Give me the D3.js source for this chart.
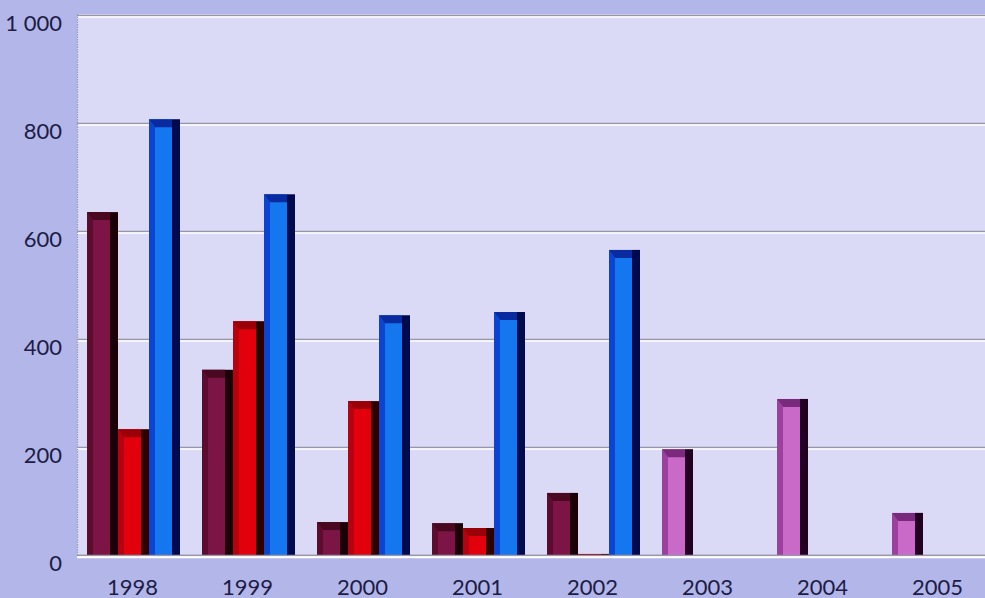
<!DOCTYPE html>
<html>
<head>
<meta charset="utf-8">
<script src="https://cdn.jsdelivr.net/npm/d3@7"></script>
<style>
  html, body { margin: 0; padding: 0; background: #b3b6e8; }
  svg { display: block; }
  text { font-family: Lato, "Open Sans", sans-serif; }
</style>
</head>
<body>
<svg id="chart" width="985" height="598"></svg>
<script>
// ---- data ----
const years = ["1998", "1999", "2000", "2001", "2002", "2003", "2004", "2005"];
const seriesMaroon = [635, 343, 61, 59, 115, null, null, null];
const seriesRed    = [233, 433, 285, 50, 2, null, null, null];
const seriesBlue   = [807, 668, 444, 450, 565, null, null, null];
const seriesPink   = [null, null, null, null, null, 196, 289, 78];
const yTicks = [0, 200, 400, 600, 800, 1000];
const yTickLabels = ["0", "200", "400", "600", "800", "1 000"];

// ---- styling per series ----
const styles = [
  { values: seriesMaroon, slot: 0, face: "#7c1446", left: "#5e0c2e", top: "#4a0820", side: "#1c0008" },
  { values: seriesRed,    slot: 1, face: "#e2000c", left: "#b8000e", top: "#9a0008", side: "#2e0000" },
  { values: seriesBlue,   slot: 2, face: "#1577ef", left: "#0a44d2", top: "#0a2aa0", side: "#000a4c" },
  { values: seriesPink,   slot: 0, face: "#c96ac9", left: "#9c3f9e", top: "#7a2a7c", side: "#220022" }
];

const W = 985, H = 598;
const plot = { left: 77, top: 14, right: 985, bottom: 556 };

const svg = d3.select("#chart");

// background
svg.append("rect").attr("x", 0).attr("y", 0).attr("width", W).attr("height", H).attr("fill", "#b3b6e8");
svg.append("rect").attr("x", plot.left).attr("y", plot.top)
  .attr("width", plot.right - plot.left).attr("height", plot.bottom - plot.top)
  .attr("fill", "#dad9f6");

// scales
const y = d3.scaleLinear().domain([0, 1000]).range([555, 15]);
const x = d3.scaleBand().domain(years).range([76, 996]).paddingInner(0).paddingOuter(0);
const groupW = 93;
const xSlot = d3.scaleBand().domain([0, 1, 2]).range([0, groupW]);

// gridlines (embossed: gray line + white line below)
const grid = svg.append("g");
yTicks.forEach(t => {
  const yy = Math.round(y(t));
  grid.append("line").attr("x1", plot.left).attr("x2", plot.right)
    .attr("y1", yy + 0.5).attr("y2", yy + 0.5)
    .attr("stroke", "#9896a8").attr("stroke-width", 1.3);
  grid.append("line").attr("x1", plot.left).attr("x2", plot.right)
    .attr("y1", yy + 2).attr("y2", yy + 2)
    .attr("stroke", "#ffffff").attr("stroke-width", 1.6);
});
// left border dotted
svg.append("line").attr("x1", plot.left + 0.5).attr("x2", plot.left + 0.5)
  .attr("y1", plot.top).attr("y2", plot.bottom + 1)
  .attr("stroke", "#9a98aa").attr("stroke-width", 1.2).attr("stroke-dasharray", "1.5,1");

// bars
const barsG = svg.append("g");
const base = y(0);
styles.forEach(s => {
  s.values.forEach((v, i) => {
    if (v == null) return;
    const x0 = x(years[i]) + (x.bandwidth() - groupW) / 2 + xSlot(s.slot);
    const w = xSlot.bandwidth();
    const y0 = y(v);
    const h = base - y0;
    const side = 8, bev = Math.min(6, h), tb = Math.min(8, h);
    const g = barsG.append("g");
    // face
    g.append("rect").attr("x", x0).attr("y", y0).attr("width", w - side).attr("height", h).attr("fill", s.face);
    // left bevel
    g.append("polygon").attr("points", [
      [x0, y0], [x0 + bev, y0 + tb], [x0 + bev, base], [x0, base]
    ].map(p => p.join(",")).join(" ")).attr("fill", s.left);
    // top bevel
    g.append("polygon").attr("points", [
      [x0, y0], [x0 + w - side, y0], [x0 + w - side, y0 + tb], [x0 + bev, y0 + tb]
    ].map(p => p.join(",")).join(" ")).attr("fill", s.top);
    // side
    g.append("rect").attr("x", x0 + w - side).attr("y", y0).attr("width", side).attr("height", h).attr("fill", s.side);
  });
});

// baseline
svg.append("line").attr("x1", plot.left).attr("x2", plot.right)
  .attr("y1", base + 0.5).attr("y2", base + 0.5).attr("stroke", "#9896a8").attr("stroke-width", 1.3);
svg.append("line").attr("x1", plot.left).attr("x2", plot.right)
  .attr("y1", base + 2.2).attr("y2", base + 2.2).attr("stroke", "#ffffff").attr("stroke-width", 2);

// y axis labels
const yAxis = d3.axisLeft(y).tickValues(yTicks).tickSize(0).tickPadding(0)
  .tickFormat((d, i) => yTickLabels[i]);
const ya = svg.append("g").attr("transform", "translate(62,8)").call(yAxis);
ya.select(".domain").remove();
ya.selectAll("text").attr("font-size", 22).attr("fill", "#1c1c46")
  .style("font-family", "Lato, 'Open Sans', sans-serif");

// x axis labels
const xAxis = d3.axisBottom(x).tickSize(0).tickPadding(0);
const xa = svg.append("g").attr("transform", "translate(-1,578)").call(xAxis);
xa.select(".domain").remove();
xa.selectAll("text").attr("font-size", 22).attr("fill", "#1c1c46").attr("dy", "0.75em")
  .style("font-family", "Lato, 'Open Sans', sans-serif");
</script>
</body>
</html>
